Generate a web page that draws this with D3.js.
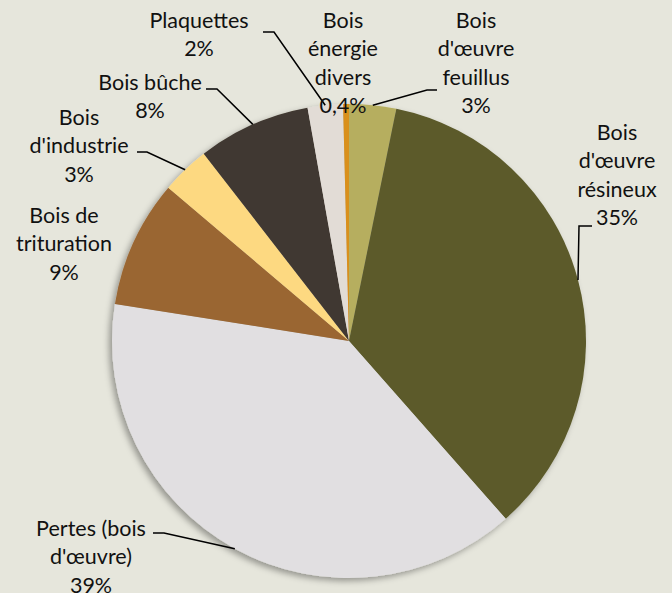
<!DOCTYPE html>
<html>
<head>
<meta charset="utf-8">
<script src="https://cdn.jsdelivr.net/npm/d3@7"></script>
<style>
  body { margin: 0; background: #e6e6dc; }
  svg { display: block; }
  text { font-family: Lato, "Open Sans", sans-serif; font-size: 21.5px; fill: #111; }
</style>
</head>
<body>
<svg id="graph" width="672" height="593"></svg>
<script>
// categories, clockwise from 12 o'clock
var categories = [
    ["Bois", "d'œuvre", "feuillus"],
    ["Bois", "d'œuvre", "résineux"],
    ["Pertes (bois", "d'œuvre)"],
    ["Bois de", "trituration"],
    ["Bois", "d'industrie"],
    ["Bois bûche"],
    ["Plaquettes"],
    ["Bois", "énergie", "divers"]
];
var valeurs = [3.2, 35.3, 39.0, 8.7, 3.3, 7.7, 2.4, 0.4];
var pctLabels = ["3%", "35%", "39%", "9%", "3%", "8%", "2%", "0,4%"];
var couleurs = ["#b6ae5e", "#5b5a2a", "#e1dfe1", "#9a6633", "#fdd981", "#403830", "#e2dcd6", "#d9901e"];

// position des étiquettes (centre du texte, 1ere ligne) + segment horizontal du trait
var labelPos = [
    { x: 476, y: 20, h: [437, 427, 90] },
    { x: 617, y: 132, h: [592, 579, 226] },
    { x: 91, y: 528, h: [153, 164, 533] },
    { x: 64, y: 215, h: null },
    { x: 79, y: 117, h: [137, 147, 152] },
    { x: 150, y: 82, h: [206, 217, 89] },
    { x: 199, y: 20, h: [263, 274, 32] },
    { x: 343, y: 20, h: null }
];

var svg = d3.select("#graph");
var cx = 349, cy = 341, r = 237;

var defs = svg.append("defs");
defs.append("filter").attr("id", "ombre")
    .attr("x", "-10%").attr("y", "-10%").attr("width", "120%").attr("height", "120%")
    .append("feDropShadow")
    .attr("dx", -3).attr("dy", 3).attr("stdDeviation", 3)
    .attr("flood-color", "#000").attr("flood-opacity", 0.35);

var pie = d3.pie().sort(null).value(d => d);
var arcs = pie(valeurs);
var arc = d3.arc().innerRadius(0).outerRadius(r);
var arcBord = d3.arc().innerRadius(r).outerRadius(r);

var g = svg.append("g").attr("transform", "translate(" + cx + "," + cy + ")");

g.append("g").attr("filter", "url(#ombre)")
    .selectAll("path")
    .data(arcs)
    .enter()
    .append("path")
    .attr("d", arc)
    .attr("fill", (d, i) => couleurs[i]);

// traits de rappel
arcs.forEach(function (d, i) {
    var p = labelPos[i];
    if (!p.h) return;
    var c = arcBord.centroid(d);
    var pts = [[p.h[0], p.h[2]], [p.h[1], p.h[2]], [c[0] + cx, c[1] + cy]];
    svg.append("path")
        .attr("d", d3.line()(pts))
        .attr("fill", "none")
        .attr("stroke", "#000")
        .attr("stroke-width", 1.5);
});

// étiquettes
var lh = 28.5;
categories.forEach(function (lines, i) {
    var p = labelPos[i];
    var t = svg.append("text").attr("text-anchor", "middle");
    lines.concat([pctLabels[i]]).forEach(function (s, k) {
        t.append("tspan")
            .attr("x", p.x)
            .attr("y", p.y + k * lh)
            .attr("dy", "0.35em")
            .text(s);
    });
});
</script>
</body>
</html>
